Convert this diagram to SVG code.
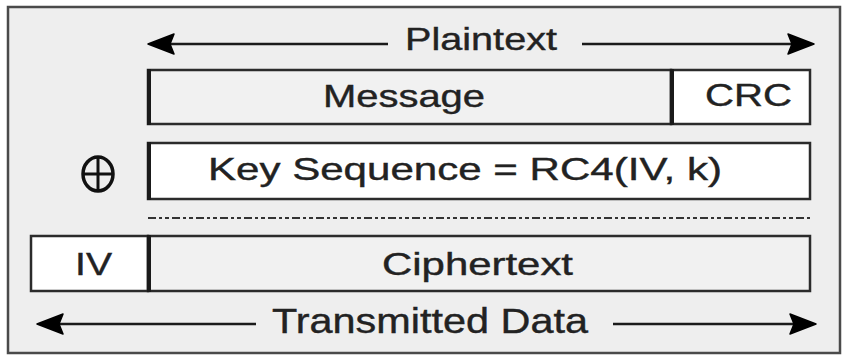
<svg xmlns="http://www.w3.org/2000/svg" width="844" height="356" viewBox="0 0 844 356">
<defs>
<style>
.t{font-family:"Liberation Sans",Arial,sans-serif;font-size:32px;fill:#222222;stroke:#222222;stroke-width:0.4;}
.b{stroke:#2b2b2b;stroke-width:2.5;}
.lb{stroke:#1a1a1a;stroke-width:4;}
.ar{stroke:#1a1a1a;stroke-width:2.5;fill:none;}
</style>
<path id="ahr" d="M0,0 L-26,-10 L-22,0 L-26,10 Z" fill="#000" stroke="#000" stroke-width="1.5" stroke-linejoin="round"/>
</defs>
<rect x="0" y="0" width="844" height="356" fill="#ffffff"/>
<rect id="frame" x="8" y="7" width="832" height="346" fill="#eeeeee" stroke="#4a4a4a" stroke-width="2.5"/>

<g id="connectors">
<line class="ar" x1="165" y1="44" x2="388" y2="44"/>
<use href="#ahr" transform="translate(148,44) scale(-1,1)"/>
<line class="ar" x1="582" y1="44" x2="797" y2="44"/>
<use href="#ahr" transform="translate(814,44)"/>
<line class="ar" x1="54" y1="324" x2="256" y2="324"/>
<use href="#ahr" transform="translate(37,324) scale(-1,1)"/>
<line class="ar" x1="613" y1="324" x2="799" y2="324"/>
<use href="#ahr" transform="translate(816,324)"/>
<line x1="148" y1="218" x2="812" y2="218" stroke="#333" stroke-width="1.8" stroke-dasharray="8 3 3 3 4 3"/>
</g>

<g id="plaintext-label"><text class="t" x="405" y="50" textLength="152" lengthAdjust="spacingAndGlyphs">Plaintext</text></g>

<g id="message">
<rect class="b" x="148" y="70" width="523" height="54" fill="#f1f1f1"/>
<line class="lb" x1="149" y1="69" x2="149" y2="125"/>
<text class="t" x="323" y="107" textLength="162" lengthAdjust="spacingAndGlyphs">Message</text>
</g>
<g id="crc">
<rect class="b" x="671" y="70" width="139" height="54" fill="#ffffff"/>
<line class="lb" x1="672" y1="69" x2="672" y2="125"/>
<text class="t" x="705" y="106" textLength="87" lengthAdjust="spacingAndGlyphs">CRC</text>
</g>

<g id="xor">
<ellipse cx="98" cy="174" rx="15" ry="17" fill="none" stroke="#111" stroke-width="3.5"/>
<line x1="83" y1="174" x2="113" y2="174" stroke="#111" stroke-width="3"/>
<line x1="98" y1="157" x2="98" y2="191" stroke="#111" stroke-width="3"/>
</g>

<g id="keysequence">
<rect class="b" x="148" y="143" width="662" height="56" fill="#ffffff"/>
<line class="lb" x1="149" y1="142" x2="149" y2="200"/>
<text class="t" x="208" y="180" textLength="514" lengthAdjust="spacingAndGlyphs">Key Sequence = RC4(IV, k)</text>
</g>

<g id="iv">
<rect class="b" x="31" y="236" width="117" height="55" fill="#ffffff"/>
<text class="t" x="75" y="275" textLength="37" lengthAdjust="spacingAndGlyphs">IV</text>
</g>
<g id="ciphertext">
<rect class="b" x="148" y="236" width="662" height="55" fill="#f1f1f1"/>
<line class="lb" x1="149" y1="235" x2="149" y2="292"/>
<text class="t" x="382" y="275" textLength="191" lengthAdjust="spacingAndGlyphs">Ciphertext</text>
</g>

<g id="transmitted-label"><text class="t" x="272" y="333" textLength="316" lengthAdjust="spacingAndGlyphs" style="font-size:35px">Transmitted Data</text></g>
</svg>
